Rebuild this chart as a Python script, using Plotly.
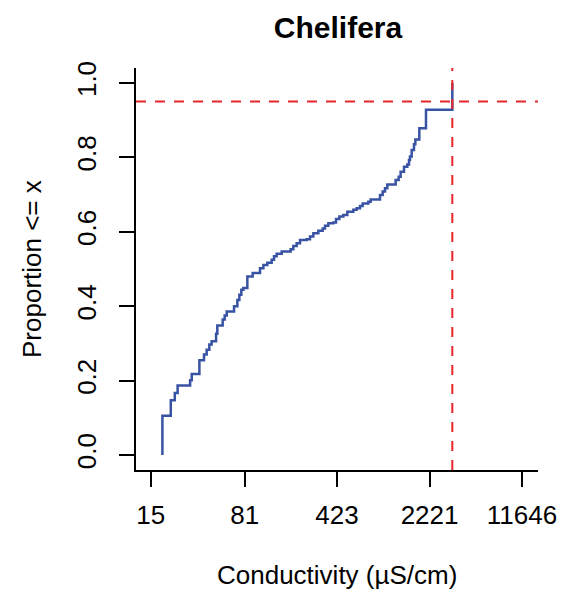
import plotly.graph_objects as go

# ECDF step points
conductivity = [18.5, 21.5, 23.1, 24.3, 30.4, 31.3, 35.9, 39.0, 40.9, 42.9,
                44.7, 48.4, 49.5, 54.5, 56.5, 58.6, 66.8, 70.9, 73.5, 76.1,
                78.9, 84.8, 93.3, 106.4, 113.0, 121.3, 131.1, 136.8, 143.4, 156.9,
                184.3, 193.3, 205.2, 217.9, 245.5, 260.6, 276.7, 302.6, 327.0, 341.0,
                362.0, 396.0, 415.4, 441.0, 473.6, 508.9, 566.7, 601.5, 638.5, 669.8,
                741.3, 773.0, 913.9, 958.5, 999.4, 1042, 1210, 1277, 1323, 1405,
                1491, 1537, 1564, 1612, 1680, 1722, 1849, 2084, 3340]
proportion = [0.106, 0.1475, 0.167, 0.187, 0.201, 0.218, 0.255, 0.270, 0.283, 0.297,
              0.306, 0.326, 0.348, 0.364, 0.375, 0.386, 0.400, 0.417, 0.431, 0.444,
              0.449, 0.480, 0.489, 0.502, 0.511, 0.517, 0.525, 0.534, 0.541, 0.547,
              0.553, 0.562, 0.569, 0.578, 0.580, 0.587, 0.596, 0.603, 0.609, 0.616,
              0.623, 0.625, 0.634, 0.641, 0.645, 0.654, 0.659, 0.663, 0.669, 0.676,
              0.681, 0.687, 0.699, 0.708, 0.717, 0.727, 0.739, 0.748, 0.761, 0.775,
              0.781, 0.793, 0.802, 0.820, 0.835, 0.848, 0.878, 0.928, 1.000]

x_ticks = [15, 81, 423, 2221, 11646]
x_tick_labels = ["15", "81", "423", "2221", "11646"]
y_ticks = [0.0, 0.2, 0.4, 0.6, 0.8, 1.0]
y_tick_labels = ["0.0", "0.2", "0.4", "0.6", "0.8", "1.0"]

threshold_prop = 0.95
threshold_cond = 3340

xs = [conductivity[0]] + conductivity
ys = [0.0] + proportion

FONT = "Liberation Sans, Arial, sans-serif"
RED = "#E8262A"
OFF = 8  # page body margin
W, H = 580 - OFF, 591 - OFF
L, R, T, B = 136 - OFF, 42, 68 - OFF, 121
pw, ph = W - L - R, H - T - B


def px_x(page_x):
    return (page_x - OFF - L) / pw


def px_y(page_y):
    return (H - B - (page_y - OFF)) / ph


fig = go.Figure()
fig.add_trace(go.Scatter(x=xs, y=ys, mode="lines", line=dict(shape="hv", color="#3953A4", width=2.5),
                         showlegend=False, hoverinfo="skip"))

fig.add_shape(type="line", xref="paper", yref="y", x0=0, x1=1, y0=threshold_prop, y1=threshold_prop,
              line=dict(color=RED, width=2, dash="10px,9px"))
fig.add_shape(type="line", xref="x", yref="paper", x0=threshold_cond, x1=threshold_cond, y0=0, y1=1,
              line=dict(color=RED, width=2, dash="10px,9px"))

fig.add_annotation(text="Conductivity (µS/cm)", xref="paper", yref="paper",
                   x=px_x(337), y=px_y(575), xanchor="center", yanchor="middle",
                   showarrow=False, font=dict(size=26, family=FONT, color="black"))
fig.add_annotation(text="Proportion <= x", xref="paper", yref="paper", textangle=-90,
                   x=px_x(32), y=px_y(269), xanchor="center", yanchor="middle",
                   showarrow=False, font=dict(size=26, family=FONT, color="black"))

fig.update_layout(
    width=W, height=H,
    margin=dict(l=L, r=R, t=T, b=B, autoexpand=False),
    paper_bgcolor="white", plot_bgcolor="white",
    font=dict(family=FONT, size=26, color="black"),
    title=dict(text="<b>Chelifera</b>", x=(338 - OFF) / W, xanchor="center", y=1 - (27 - OFF) / H,
               yanchor="middle", font=dict(size=30, family=FONT)),
    xaxis=dict(type="log", range=[1.0617, 4.1907], tickvals=x_ticks, ticktext=x_tick_labels,
               showgrid=False, zeroline=False, showline=True, linecolor="black", linewidth=2,
               ticks="outside", ticklen=15, tickwidth=2, tickcolor="black", automargin=False,
               ticklabelstandoff=6, tickfont=dict(size=26)),
    yaxis=dict(range=[-0.04, 1.04], tickvals=y_ticks, ticktext=y_tick_labels, tickangle=-90,
               showgrid=False, zeroline=False, showline=True, linecolor="black", linewidth=2,
               ticks="outside", ticklen=15, tickwidth=2, tickcolor="black", automargin=False,
               ticklabelstandoff=13, tickfont=dict(size=26)),
)

fig.write_html("out.html")
